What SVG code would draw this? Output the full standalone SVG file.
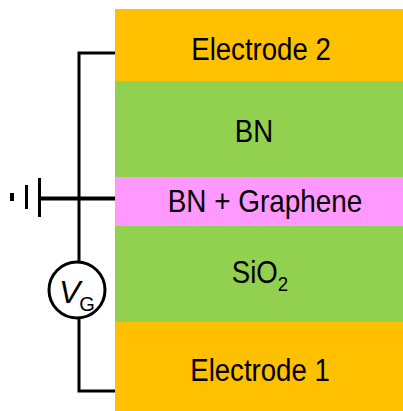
<svg xmlns="http://www.w3.org/2000/svg" width="403" height="411" viewBox="0 0 403 411">
<style>
.t{font-family:"Liberation Sans",Arial,sans-serif;font-size:31px;fill:#000;text-anchor:middle}
.w{fill:none;stroke:#000;stroke-width:3}
</style>
<rect width="403" height="411" fill="#fff"/>
<g id="connectors">
<path class="w" d="M115 53H79V262M79 319V391H115"/>
<path d="M41 198.500H115" fill="none" stroke="#000" stroke-width="4"/>
<path class="w" d="M39.500 178V217"/>
<path class="w" d="M26.500 185V209"/>
<path d="M12 193V201" fill="none" stroke="#000" stroke-width="4"/>
</g>
<g id="electrode2"><rect x="115" y="9" width="288" height="72" fill="#ffc000"/><text class="t" transform="translate(261 60) scale(.89 1)">Electrode 2</text></g>
<g id="bn"><rect x="115" y="81" width="288" height="96" fill="#92d050"/><text class="t" transform="translate(254 142) scale(.89 1)">BN</text></g>
<g id="bn-graphene"><rect x="115" y="177" width="288" height="49" fill="#ff99ff"/><text class="t" transform="translate(265 212) scale(.9 1)">BN + Graphene</text></g>
<g id="sio2"><rect x="115" y="226" width="288" height="96" fill="#92d050"/><text class="t" transform="translate(260 283) scale(.89 1)">SiO<tspan font-size="21" dy="8">2</tspan></text></g>
<g id="electrode1"><rect x="115" y="322" width="288" height="89" fill="#ffc000"/><text class="t" transform="translate(260 381) scale(.89 1)">Electrode 1</text></g>
<g id="vg"><circle cx="77" cy="290" r="28" fill="#fff" stroke="#000" stroke-width="3"/><text x="59" y="303" font-family="Liberation Sans,Arial,sans-serif" font-size="32" font-style="italic">V<tspan font-size="20" font-style="normal" dx="-1" dy="8">G</tspan></text></g>
</svg>
